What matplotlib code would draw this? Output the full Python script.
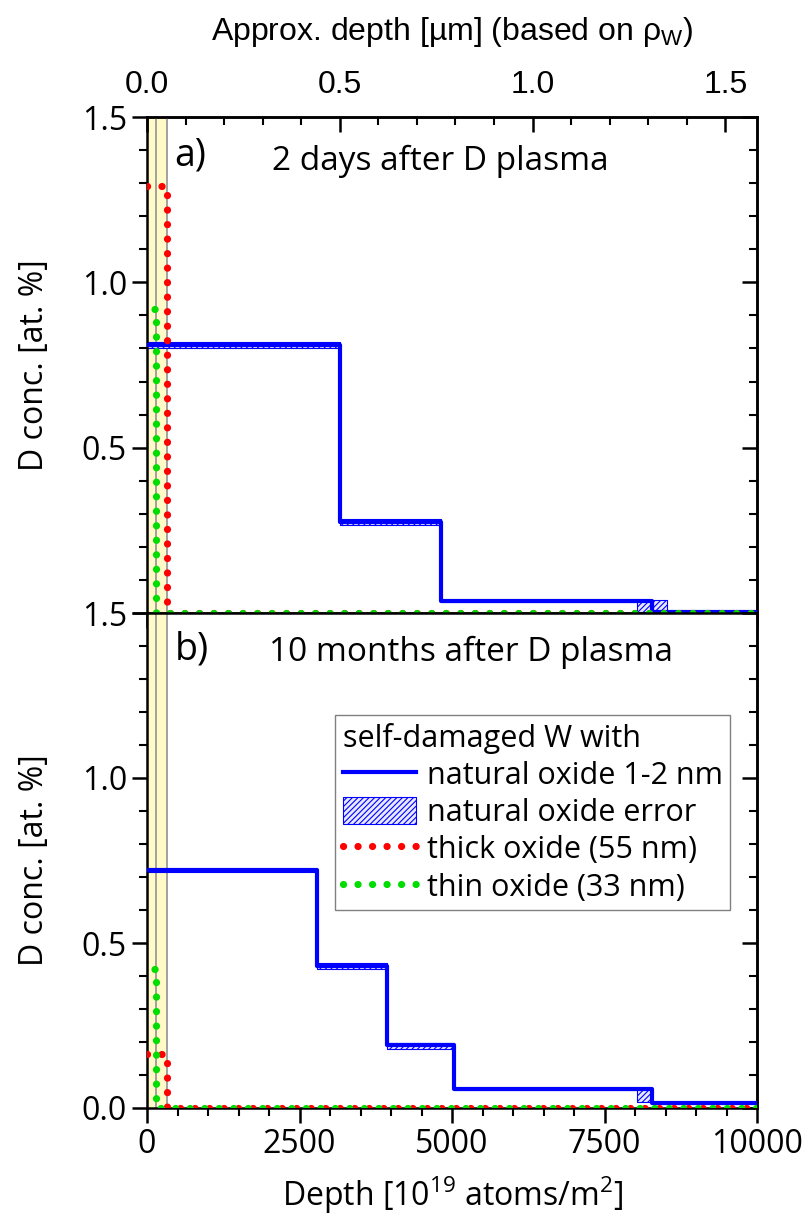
import matplotlib
matplotlib.use("Agg")
import matplotlib.pyplot as plt
from matplotlib.lines import Line2D
from matplotlib.patches import Patch
from matplotlib.ticker import MultipleLocator

plt.rcParams['font.family'] = ['Open Sans', 'DejaVu Sans']
plt.rcParams['hatch.linewidth'] = 0.8
NARROW = ['Liberation Sans Narrow', 'Liberation Sans', 'DejaVu Sans']
FS = 23

# ---- data: depth layers [1e19 atoms/m2], D concentration [at.%] ----
# a) 2 days after plasma
a_nat_edges = [0, 3160, 4820, 8280, 10000]
a_nat_conc = [0.81, 0.275, 0.035, 0.003]
a_thick_edges = [0, 330, 10000]
a_thick_conc = [1.29, 0.0]
a_thin_edges = [0, 150, 10000]
a_thin_conc = [0.92, 0.0]
a_err_x0 = [0, 3160, 4820, 8030, 8300]
a_err_x1 = [3160, 4820, 8030, 8280, 8520]
a_err_lo = [0.80, 0.265, 0.032, 0.003, 0.003]
a_err_hi = [0.82, 0.285, 0.038, 0.035, 0.038]

# b) 10 months after plasma
b_nat_edges = [0, 2780, 3930, 5030, 8280, 10000]
b_nat_conc = [0.72, 0.43, 0.19, 0.058, 0.015]
b_thick_edges = [0, 330, 10000]
b_thick_conc = [0.165, 0.0]
b_thin_edges = [0, 150, 10000]
b_thin_conc = [0.42, 0.0]
b_err_x0 = [0, 2780, 3930, 5030, 8030, 8280]
b_err_x1 = [2780, 3930, 5030, 8030, 8280, 10000]
b_err_lo = [0.715, 0.42, 0.18, 0.054, 0.018, 0.011]
b_err_hi = [0.725, 0.438, 0.197, 0.062, 0.058, 0.019]

oxide_band = [0, 330]
oxide_lines = [150, 330]
um_per_unit = 1 / 6320.0   # atoms -> um using rho_W

BLUE = '#0000ff'
RED = '#ff0000'
GREEN = '#00dd00'
dots = (0, (0.01, 2.0))
DOT_LW = 5.2


def steps(edges, conc):
    return edges, list(conc) + [conc[-1]]


def panel(ax, nat_e, nat_c, thick_e, thick_c, thin_e, thin_c, ex0, ex1, elo, ehi):
    ax.axvspan(oxide_band[0], oxide_band[1], color='#fffac8', zorder=0, lw=0)
    for xv in oxide_lines:
        ax.axvline(xv, color='#9a9a9a', lw=1.3, zorder=1)
    for x0, x1, lo, hi in zip(ex0, ex1, elo, ehi):
        ax.fill_between([x0, x1], [lo, lo], [hi, hi], facecolor='#e8e8ff',
                        edgecolor=BLUE, hatch='//////', lw=0.8, zorder=2)
    x, y = steps(nat_e, nat_c)
    ax.step(x, y, where='post', color=BLUE, lw=3, zorder=3)
    x, y = steps(thick_e, thick_c)
    ax.step(x, y, where='post', color=RED, lw=DOT_LW, ls=dots,
            dash_capstyle='round', zorder=4)
    x, y = steps(thin_e, thin_c)
    ax.step(x, y, where='post', color=GREEN, lw=DOT_LW, ls=(7, (0.01, 2.0)),
            dash_capstyle='round', zorder=5)
    ax.set_xlim(0, 10000)
    ax.set_ylim(0, 1.5)
    ax.xaxis.set_major_locator(MultipleLocator(2500))
    ax.xaxis.set_minor_locator(MultipleLocator(500))
    ax.yaxis.set_major_locator(MultipleLocator(0.5))
    ax.yaxis.set_minor_locator(MultipleLocator(0.1))
    ax.tick_params(which='major', length=11, width=1.8, direction='out', labelsize=FS)
    ax.tick_params(which='minor', length=6, width=1.5, direction='out')
    ax.tick_params(top=False, right=False)
    for s in ax.spines.values():
        s.set_linewidth(1.8)
    rax = ax.secondary_yaxis('right')
    rax.yaxis.set_major_locator(MultipleLocator(0.5))
    rax.yaxis.set_minor_locator(MultipleLocator(0.1))
    rax.tick_params(which='major', length=11, width=1.8, direction='in', labelright=False)
    rax.tick_params(which='minor', length=6, width=1.5, direction='in')
    rax.spines['right'].set_linewidth(1.8)
    ax.set_ylabel('D conc. [at. %]', fontsize=FS, labelpad=22)


fig = plt.figure(figsize=(8.06, 12.22), dpi=100)
left, right = 147 / 806, 757 / 806
ax_a = fig.add_axes([left, 1 - 613 / 1222, right - left, (613 - 117) / 1222])
ax_b = fig.add_axes([left, 1 - 1108 / 1222, right - left, (1108 - 613) / 1222])

panel(ax_a, a_nat_edges, a_nat_conc, a_thick_edges, a_thick_conc,
      a_thin_edges, a_thin_conc, a_err_x0, a_err_x1, a_err_lo, a_err_hi)
panel(ax_b, b_nat_edges, b_nat_conc, b_thick_edges, b_thick_conc,
      b_thin_edges, b_thin_conc, b_err_x0, b_err_x1, b_err_lo, b_err_hi)

ax_a.tick_params(labelbottom=False)
ax_a.set_yticks([0, 0.5, 1.0, 1.5], ['', '0.5', '1.0', '1.5'])
ax_b.set_yticks([0, 0.5, 1.0, 1.5], ['0.0', '0.5', '1.0', '1.5'])
ax_b.set_xticks([0, 2500, 5000, 7500, 10000], ['0', '2500', '5000', '7500', '10000'])
ax_b.set_xlabel('Depth [10$^\\mathregular{19}$ atoms/m$^\\mathregular{2}$]',
                fontsize=FS, labelpad=10)

# top axis: approximate depth in um
top = ax_a.secondary_xaxis('top', functions=(lambda d: d * um_per_unit,
                                             lambda u: u / um_per_unit))
top.xaxis.set_major_locator(MultipleLocator(0.5))
top.xaxis.set_minor_locator(MultipleLocator(0.1))
top.tick_params(which='major', length=11, width=1.8, direction='in', pad=12)
top.tick_params(which='minor', length=6, width=1.5, direction='in')
top.spines['top'].set_linewidth(1.8)
top.set_xticks([0, 0.5, 1.0, 1.5], ['0.0', '0.5', '1.0', '1.5'],
               family=NARROW, fontsize=23)
top.set_xlabel('Approx. depth [µm] (based on ρ$_\\mathregular{W}$)',
               family=NARROW, fontsize=23, labelpad=22)

ax_a.text(0.045, 0.96, 'a)', transform=ax_a.transAxes, fontsize=27, va='top')
ax_a.text(0.205, 0.945, '2 days after D plasma', transform=ax_a.transAxes,
          fontsize=24, va='top')
ax_b.text(0.045, 0.965, 'b)', transform=ax_b.transAxes, fontsize=27, va='top')
ax_b.text(0.2, 0.955, '10 months after D plasma', transform=ax_b.transAxes,
          fontsize=24, va='top')

handles = [
    Line2D([], [], color=BLUE, lw=3),
    Patch(facecolor='#e8e8ff', edgecolor=BLUE, hatch='//////', lw=0.8),
    Line2D([], [], color=RED, lw=DOT_LW, ls=dots, dash_capstyle='round'),
    Line2D([], [], color=GREEN, lw=DOT_LW, ls=dots, dash_capstyle='round'),
]
labels = ['natural oxide 1-2 nm', 'natural oxide error',
          'thick oxide (55 nm)', 'thin oxide (33 nm)']
leg = ax_b.legend(handles, labels, title='self-damaged W with', loc='upper left',
                  bbox_to_anchor=(0.308, 0.794), borderaxespad=0, fontsize=22,
                  title_fontsize=22, alignment='left', fancybox=False,
                  edgecolor='#808080', framealpha=1, handlelength=2.4,
                  handleheight=1.0, handletextpad=0.35, labelspacing=0.2,
                  borderpad=0.25)
leg.get_frame().set_linewidth(1.0)

fig.savefig('out.png', dpi=100)
